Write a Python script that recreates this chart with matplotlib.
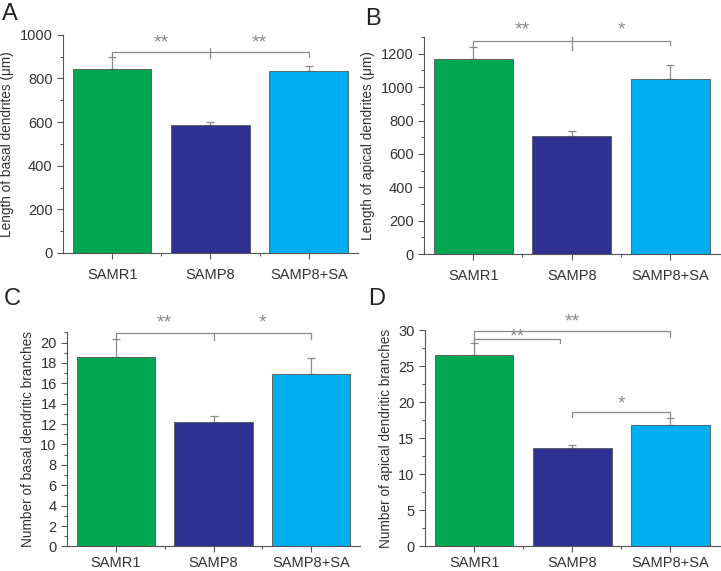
import matplotlib.pyplot as plt
import numpy as np
from matplotlib.ticker import MultipleLocator

plt.rcParams['font.family'] = ['Liberation Sans', 'DejaVu Sans']

#groups and colours
groups = ['SAMR1', 'SAMP8', 'SAMP8+SA']
colors = ['#00a651', '#2e3192', '#00aeef']

#values (mean and upper error)
basal_len = [843, 585, 833]
basal_len_err = [57, 15, 24]
apical_len = [1170, 710, 1050]
apical_len_err = [68, 25, 80]
basal_num = [18.55, 12.2, 16.9]
basal_num_err = [1.75, 0.6, 1.6]
apical_num = [26.6, 13.6, 16.9]
apical_num_err = [1.6, 0.5, 0.9]

grey = '#8a8a8a'
txt = '#333333'

fig = plt.figure(figsize=(7.21, 5.71), dpi=100)

def panel(rect, vals, errs, ylim, major, minor, ylabel, xpad=3):
	ax = fig.add_axes(rect)
	x = np.arange(len(groups))
	ax.bar(x, vals, width=0.8, color=colors, edgecolor='#555555', linewidth=0.6, zorder=2)
	ax.errorbar(x, vals, yerr=[np.zeros(3), errs], fmt='none', ecolor=grey,
		elinewidth=0.9, capsize=3, capthick=0.9, zorder=1)
	ax.set_xlim(-0.5, 2.5)
	ax.set_ylim(*ylim)
	ax.spines['top'].set_visible(False)
	ax.spines['right'].set_visible(False)
	for s in ('left', 'bottom'):
		ax.spines[s].set_color('#555555')
		ax.spines[s].set_linewidth(0.8)
	ax.set_xticks(x)
	ax.set_xticklabels(groups, color=txt)
	ax.set_xticks([0.5, 1.5], minor=True)
	ax.yaxis.set_major_locator(MultipleLocator(major))
	ax.yaxis.set_minor_locator(MultipleLocator(minor))
	ax.tick_params(axis='both', which='major', length=4, width=0.8, color='#555555', labelsize=10.5, labelcolor=txt)
	ax.tick_params(axis='both', which='minor', length=2.5, width=0.8, color='#555555')
	ax.tick_params(axis='x', labelsize=10.5, pad=xpad)
	ax.set_ylabel(ylabel, fontsize=9.8, color=txt, labelpad=4)
	return ax

def star(ax, x, y, s):
	ax.text(x, y, s, ha='center', va='bottom', fontsize=14, color=grey, clip_on=False)

#panel A
axA = panel([0.0874, 0.557, 0.409, 0.382], basal_len, basal_len_err, (0, 1000), 200, 100,
	u'Length of basal dendrites (\u03bcm)', xpad=7)
axA.plot([0, 0, 2, 2], [897, 922, 922, 897], color=grey, lw=0.9, clip_on=False)
axA.plot([1, 1], [895, 940], color=grey, lw=0.9, clip_on=False)
star(axA, 0.5, 925, '**')
star(axA, 1.5, 925, '**')

#panel B
axB = panel([0.588, 0.555, 0.41, 0.38], apical_len, apical_len_err, (0, 1300), 200, 100,
	u'Length of apical dendrites (\u03bcm)', xpad=7)
axB.plot([0, 0, 2, 2], [1240, 1278, 1278, 1250], color=grey, lw=0.9, clip_on=False)
axB.plot([1, 1], [1225, 1300], color=grey, lw=0.9, clip_on=False)
star(axB, 0.5, 1290, '**')
star(axB, 1.5, 1290, '*')

#panel C
axC = panel([0.093, 0.043, 0.4063, 0.375], basal_num, basal_num_err, (0, 21), 2, 1,
	'Number of basal dendritic branches')
axC.plot([0, 0, 2, 2], [20.2, 20.9, 20.9, 20.3], color=grey, lw=0.9, clip_on=False)
axC.plot([1, 1], [20.2, 20.9], color=grey, lw=0.9, clip_on=False)
star(axC, 0.5, 21.1, '**')
star(axC, 1.5, 21.1, '*')

#panel D
axD = panel([0.5895, 0.043, 0.4085, 0.379], apical_num, apical_num_err, (0, 30), 5, 2.5,
	'Number of apical dendritic branches')
axD.plot([0, 0, 2, 2], [28.3, 29.9, 29.9, 29.0], color=grey, lw=0.9, clip_on=False)
axD.plot([0, 0.87, 0.87], [28.8, 28.8, 28.2], color=grey, lw=0.9, clip_on=False)
axD.plot([1, 1, 2, 2], [17.9, 18.7, 18.7, 17.9], color=grey, lw=0.9, clip_on=False)
star(axD, 1.0, 30.0, '**')
star(axD, 0.44, 27.9, '**')
star(axD, 1.5, 18.6, '*')

#panel letters
for lab, (px, py) in zip('ABCD', [(0.003, 0.965), (0.507, 0.956), (0.005, 0.466), (0.511, 0.466)]):
	fig.text(px, py, lab, fontsize=17, color='#222222', ha='left', va='baseline')

plt.savefig('out.png', dpi=100)
